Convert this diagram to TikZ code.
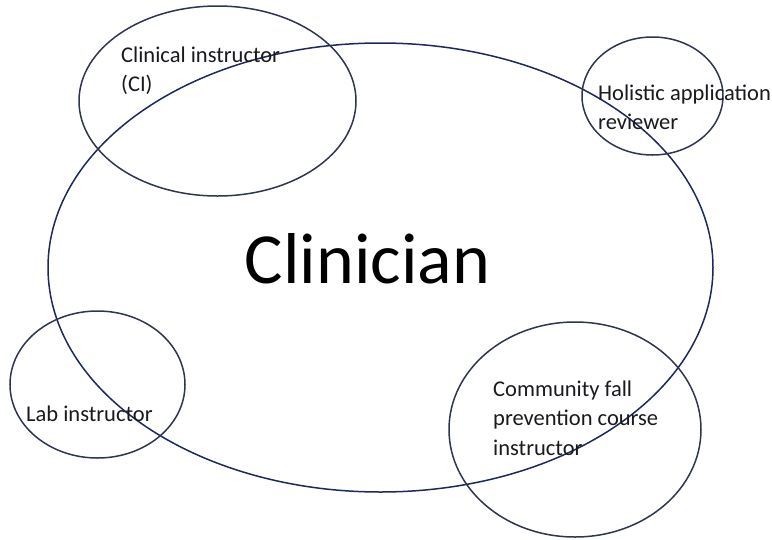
\documentclass[tikz,border=0pt]{standalone}
\usepackage{fontspec}
\setmainfont{Carlito}
\usetikzlibrary{shapes.geometric}
\definecolor{ringblue}{RGB}{28,40,95}
\definecolor{rolegray}{RGB}{45,53,82}
\definecolor{labelink}{RGB}{25,25,30}
\begin{document}
\begin{tikzpicture}[x=1pt,y=-1pt,
  ring/.style={ellipse,draw=rolegray,line width=1.5pt,inner sep=0pt,outer sep=0pt},
  rolelabel/.style={anchor=base west,align=left,inner sep=0pt,text=labelink,
    font=\fontsize{22.5}{29.5}\selectfont}]
\useasboundingbox (0,0) rectangle (772,539);
% the central role
\node[ring,draw=ringblue,minimum width=665pt,minimum height=449pt] (clin) at (380.5,267.5) {};
\node[anchor=base,inner sep=0pt,font=\fontsize{72}{78}\selectfont] (clintext) at (367.5,283) {Clinician};
% overlapping roles
\node[ring,minimum width=277pt,minimum height=190pt] (ci) at (217.5,101) {};
\node[ring,minimum width=141pt,minimum height=118pt] (har) at (652.5,96) {};
\node[ring,minimum width=175pt,minimum height=147pt] (lab) at (97.5,384.5) {};
\node[ring,minimum width=252pt,minimum height=215pt] (cfp) at (575,429.5) {};
% role labels (placed by the baseline of their last line)
\node[rolelabel] (citext) at (121,91.5) {Clinical instructor\\(CI)};
\node[rolelabel] (hartext) at (598,129.5) {Holistic application\\reviewer};
\node[rolelabel] (labtext) at (26,421) {Lab instructor};
\node[rolelabel] (cfptext) at (493,455) {Community fall\\prevention course\\instructor};
\end{tikzpicture}
\end{document}
